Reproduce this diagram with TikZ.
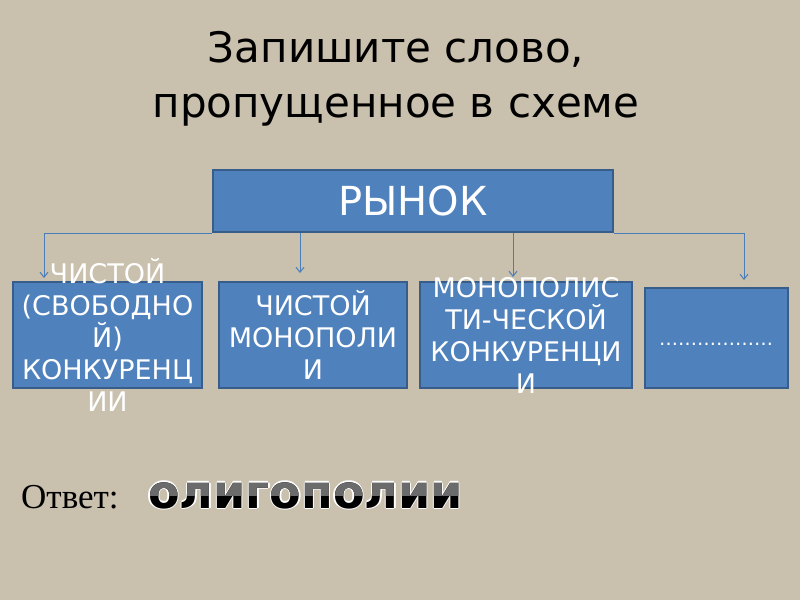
\documentclass[tikz,border=0pt]{standalone}
\usepackage{fontspec}
\setmainfont{DejaVu Sans}
\newfontfamily\answerserif{Liberation Serif}
\newfontfamily\answerfont{DejaVu Sans Bold}
\usetikzlibrary{arrows.meta}

\definecolor{linen}{RGB}{201,192,173}
\definecolor{boxblue}{RGB}{79,129,189}
\definecolor{boxedge}{RGB}{56,93,138}
\definecolor{linkblue}{RGB}{74,126,187}

\begin{document}
\begin{tikzpicture}[
    x = 1pt, y = -1pt,
    box/.style = {
        draw = boxedge,
        fill = boxblue,
        rectangle,
        inner sep = 0pt,
        line width = 2pt
    },
    boxtext/.style = {
        text = white,
        align = center,
        font = \fontsize{27}{32}\selectfont
    },
    link/.style = {
        draw = linkblue,
        line width = 1pt,
        -{Straight Barb[length=5pt, width=8pt]}
    },
    answer/.style = {
        anchor = base west,
        inner sep = 0pt,
        font = \answerfont\fontsize{46}{50}\selectfont
    }
]

% Background
\fill[linen] (0,0) rectangle (800,600);
\useasboundingbox (0,0) rectangle (800,600);

% Title
\node[align = center, font = \fontsize{42}{55}\selectfont] (title) at (396, 79)
    {Запишите слово,\\пропущенное в схеме};

% Top box
\node[box, minimum width = 400pt, minimum height = 62pt, text = white,
      font = \fontsize{40}{44}\selectfont] (rynok) at (413, 201) {РЫНОК};

% Lower boxes
\foreach \n / \cx / \cy / \w / \h in {b1/107.5/335/189/106, b2/313/335/188/106,
                                      b3/526/335/212/106, b4/716.5/338/143/100} {
    \node[box, minimum width = \w pt, minimum height = \h pt] (\n) at (\cx, \cy) {};
}

% Arrow ends
\coordinate (a1) at (44, 278);
\coordinate (a2) at (300, 273);
\coordinate (a3) at (513, 277);
\coordinate (a4) at (744, 280);

% Connectors
\draw[link] (rynok.south west) -| (a1);
\draw[link] (rynok.south -| a2) -- (a2);
\draw[link] (rynok.south -| a3) -- (a3);
\draw[link] (rynok.south east) -| (a4);

% Box texts
\node[boxtext] (b1label) at (b1) {ЧИСТОЙ\\(СВОБОДНО\\Й)\\КОНКУРЕНЦ\\ИИ};
\node[boxtext] (b2label) at (b2) {ЧИСТОЙ\\МОНОПОЛИ\\И};
\node[boxtext] (b3label) at (b3) {МОНОПОЛИС\\ТИ-ЧЕСКОЙ\\КОНКУРЕНЦИ\\И};
\node[text = white, font = \fontsize{19}{22}\selectfont] (b4label) at (716, 344) {………………};

% Answer
\node[anchor = base west, inner sep = 0pt, font = \answerserif\fontsize{35}{40}\selectfont]
    (otvet) at (21, 508) {Ответ:};
\foreach \dx / \dy [count = \i] in {1.3/0, -1.3/0, 0/1.3, 0/-1.3} {
    \node[answer, text = white] (outline\i) at (148 + \dx, 508 + \dy) {олигополии};
}
\node[answer, text = black] (word) at (148, 508) {олигополии};
\begin{scope}
    \clip (140, 470) rectangle (470, 495);
    \node[answer, text = black!58] (wordtop) at (148, 508) {олигополии};
\end{scope}

\end{tikzpicture}
\end{document}
